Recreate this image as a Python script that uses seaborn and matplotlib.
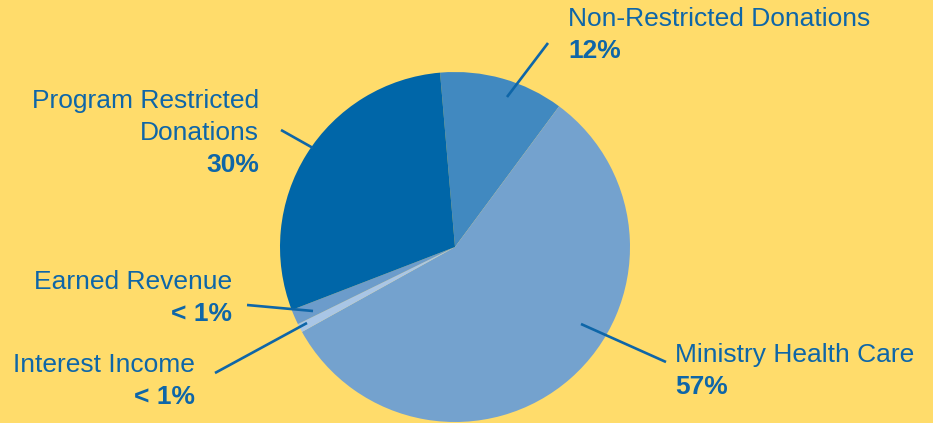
import numpy as np
import pandas as pd
import matplotlib
matplotlib.use("Agg")
import matplotlib.pyplot as plt
import seaborn as sns

# data, clockwise from the top
categories = ["Non-Restricted Donations", "Ministry Health Care", "Interest Income",
              "Earned Revenue", "Program Restricted Donations"]
shares = [11.5, 56.8, 0.8, 1.4, 29.5]
pct_labels = ["12%", "57%", "< 1%", "< 1%", "30%"]
label_text = ["Non-Restricted Donations", "Ministry Health Care", "Interest Income",
              "Earned Revenue", "Program Restricted\nDonations"]
colors = ["#4189C0", "#74A2CE", "#A9C6E6", "#6C9CCB", "#0066A8"]

BG = "#FFDC6B"
TXT = "#0E66A8"
W, H = 933, 423

sns.set_style("white")
plt.rcParams["font.family"] = ["Liberation Sans", "DejaVu Sans"]

df = pd.DataFrame({"category": categories, "share": shares, "pct": pct_labels,
                   "label": label_text, "color": colors})

fig = plt.figure(figsize=(W / 100, H / 100), dpi=100, facecolor=BG)
ax = fig.add_axes([0, 0, 1, 1])
ax.set_facecolor(BG)

cx, cy, r = 455, H - 247, 175
ax.pie(df["share"], colors=df["color"], startangle=94.9, counterclock=False,
       center=(cx, cy), radius=r, frame=True,
       wedgeprops=dict(linewidth=0))
ax.set_xlim(0, W)
ax.set_ylim(0, H)
ax.set_aspect("equal")
ax.axis("off")

# label layout: (x, baseline of first line, align, leader start, leader end) in pixels
layout = {
    "Non-Restricted Donations": (568, 26, "left", (507, 97), (548, 43)),
    "Ministry Health Care": (675, 362, "left", (581, 324), (666, 362)),
    "Interest Income": (195, 372, "right", (307, 323), (215, 373)),
    "Earned Revenue": (232, 289, "right", (313, 311), (247, 305)),
    "Program Restricted Donations": (259, 108, "right", (313, 148), (281, 130)),
}
fs = 19
lh = 32

for _, row in df.iterrows():
    x, yb, ha, p0, p1 = layout[row["category"]]
    lines = row["label"].split("\n")
    for i, ln in enumerate(lines):
        ax.text(x, H - (yb + i * lh), ln, ha=ha, va="baseline", fontsize=fs, color=TXT)
    ax.text(x, H - (yb + len(lines) * lh), row["pct"], ha=ha, va="baseline",
            fontsize=fs, fontweight="bold", color=TXT)
    ax.plot([p0[0], p1[0]], [H - p0[1], H - p1[1]], color=TXT, lw=1.9,
            solid_capstyle="butt")

fig.savefig("out.png", dpi=100, facecolor=BG)
